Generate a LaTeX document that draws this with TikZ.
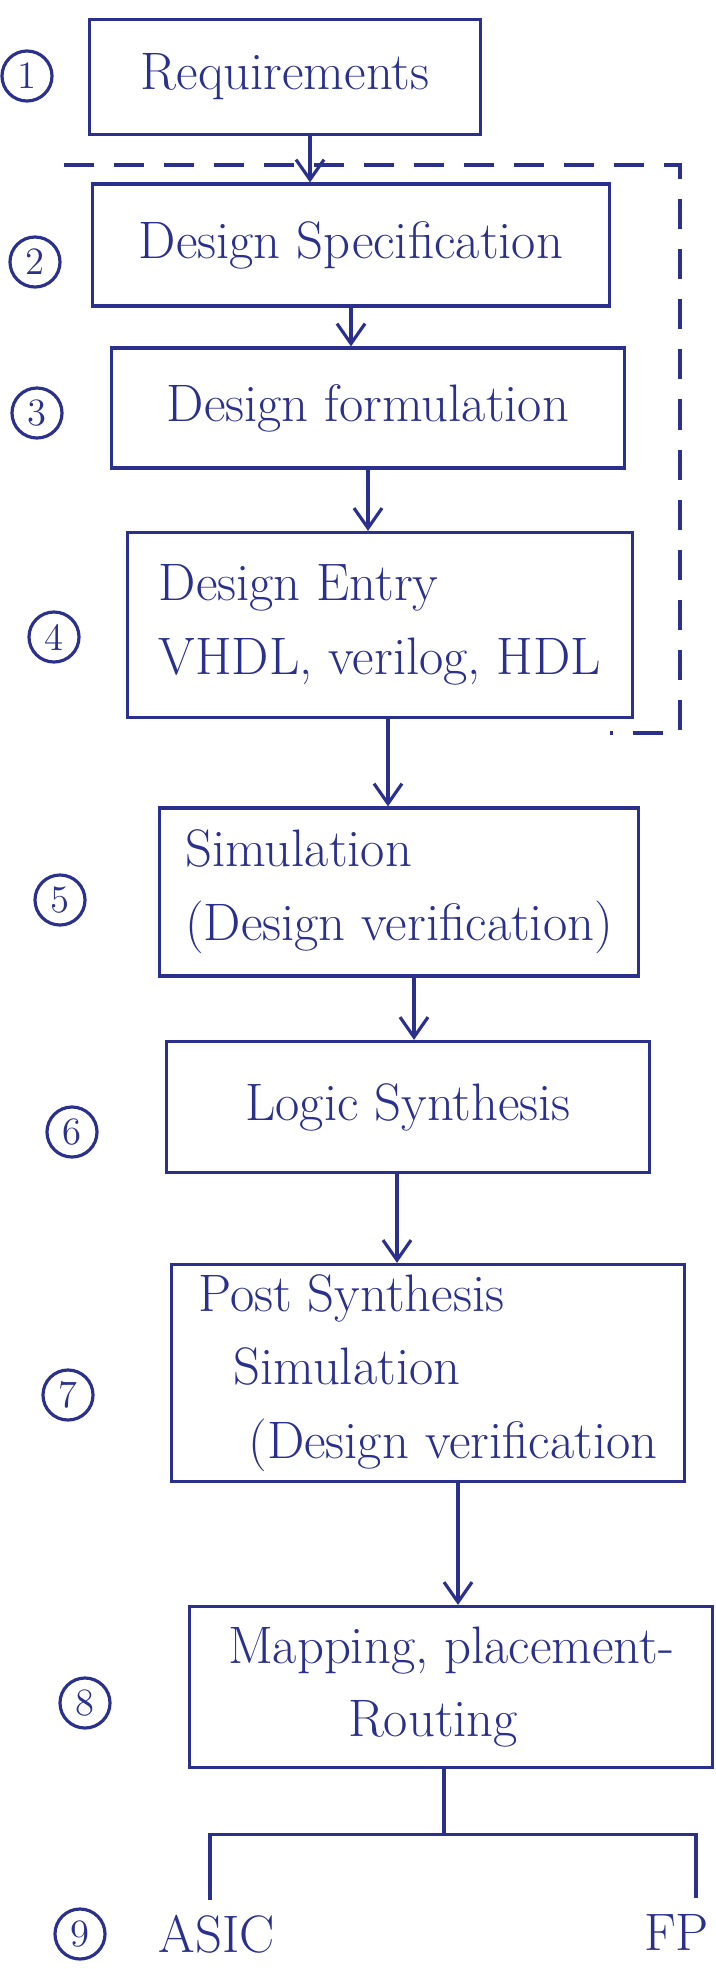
\documentclass[tikz,border=0pt]{standalone}
\usepackage{fontspec}
\usepackage{tikz}
\usepackage{xcolor}
\usetikzlibrary{arrows.meta, calc}

\definecolor{ink}{RGB}{42,48,140}

\begin{document}
\begin{tikzpicture}[x=0.01cm, y=-0.01cm, color=ink, line width=0.9pt,
	stagebox/.style={draw, rectangle, inner sep=1pt, font=\fontsize{15}{21}\selectfont},
	numcirc/.style={draw, circle, minimum size=0.5cm, inner sep=0.5pt, font=\fontsize{11}{11}\selectfont},
	target/.style={inner sep=1pt, font=\fontsize{15}{21}\selectfont},
	arr/.style={-{Straight Barb[length=2mm,width=2.8mm]}},
	bracket/.style={dash pattern=on 3mm off 2mm}]
	\useasboundingbox (0,0) rectangle (716,1969);

	\node[stagebox, minimum width=3.9cm, minimum height=1.15cm] (req) at (285,77) {Requirements};
	\node[stagebox, minimum width=5.17cm, minimum height=1.22cm] (spec) at (351,245) {Design Specification};
	\node[stagebox, minimum width=5.12cm, minimum height=1.2cm] (form) at (368,408) {Design formulation};
	\node[stagebox, minimum width=5.04cm, minimum height=1.85cm, align=left] (entry) at (380,625) {Design Entry\\VHDL, verilog, HDL};
	\node[stagebox, minimum width=4.78cm, minimum height=1.68cm, align=left] (sim) at (399,892) {Simulation\\(Design verification)};
	\node[stagebox, minimum width=4.83cm, minimum height=1.31cm] (synth) at (408,1107) {Logic Synthesis};
	\node[stagebox, minimum width=5.13cm, minimum height=2.17cm, align=left] (post) at (428,1373) {Post Synthesis\\\hspace{3.5mm}Simulation\\\hspace{5mm}(Design verification};
	\node[stagebox, minimum width=5.22cm, minimum height=1.61cm, align=left] (map) at (451,1687) {Mapping, placement-\\\hspace{1.2cm}Routing};

	\node[numcirc] (n1) at (27,76) {1};
	\node[numcirc] (n2) at (35,262) {2};
	\node[numcirc] (n3) at (37,413) {3};
	\node[numcirc] (n4) at (54,637) {4};
	\node[numcirc] (n5) at (60,900) {5};
	\node[numcirc] (n6) at (72,1132) {6};
	\node[numcirc] (n7) at (68,1395) {7};
	\node[numcirc] (n8) at (85,1703) {8};
	\node[numcirc] (n9) at (80,1934) {9};

	\node[target] (asic) at (217,1934) {ASIC};
	\node[target, anchor=east] (fp) at (714,1932) {FP};

	% flow
	\draw[arr] ($(req.south)+(25,0)$) -- ($(req.south |- spec.north)+(25,0)$);
	\draw[arr] (spec.south) -- (spec.south |- form.north);
	\draw[arr] (form.south) -- (form.south |- entry.north);
	\draw[arr] ($(entry.south)+(8,0)$) -- ($(entry.south |- sim.north)+(8,0)$);
	\draw[arr] ($(sim.south)+(15,0)$) -- ($(sim.south |- synth.north)+(15,0)$);
	\draw[arr] ($(synth.south)+(-11,0)$) -- ($(synth.south |- post.north)+(-11,0)$);
	\draw[arr] ($(post.south)+(30,0)$) -- ($(post.south |- map.north)+(30,0)$);

	% front end group
	\draw[bracket] (64,165) -- (680,165) -- (680,733) -- (610,733);

	% split to targets
	\coordinate (split) at ($(map.south)+(-7,65)$);
	\coordinate (asicend) at (210,1900);
	\coordinate (fpend) at (696,1898);
	\draw ($(map.south)+(-7,0)$) -- (split);
	\draw (asicend) |- (split) -| (fpend);
\end{tikzpicture}
\end{document}
